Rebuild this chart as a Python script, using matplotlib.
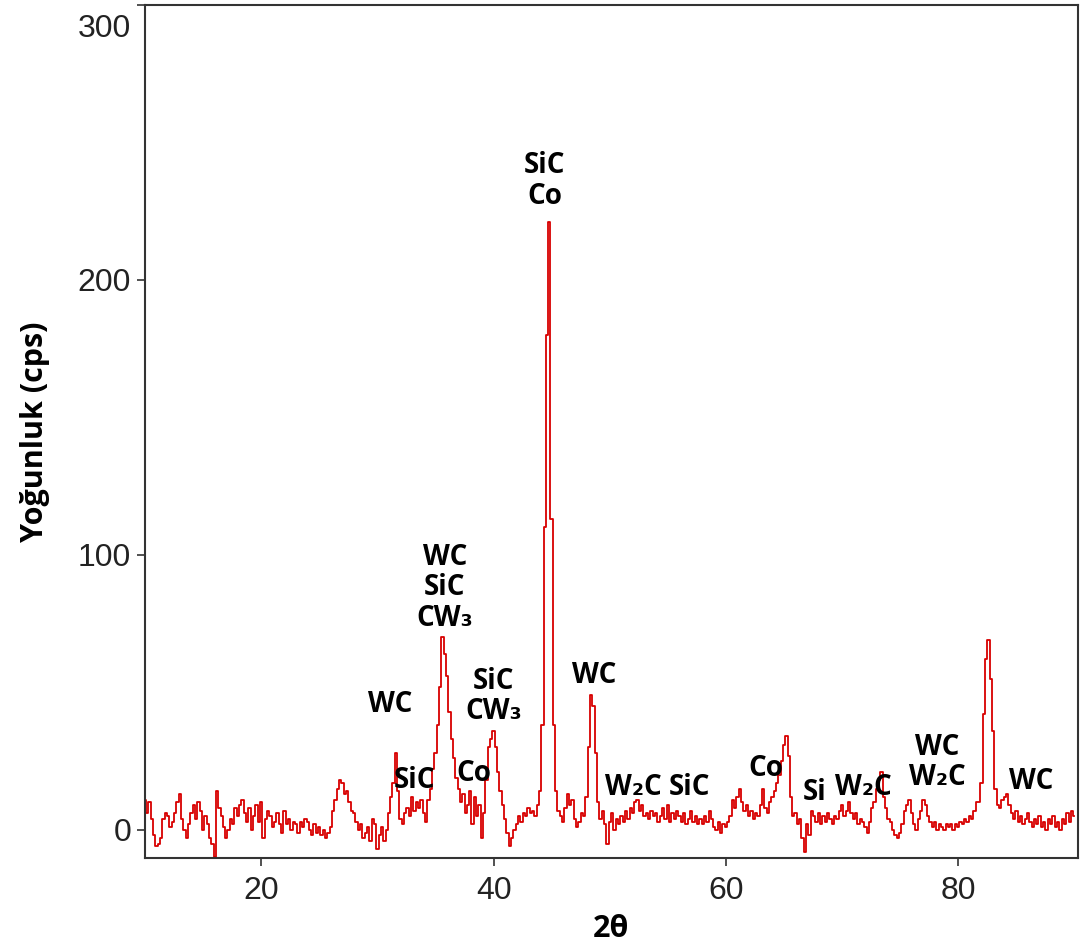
import numpy as np
import matplotlib
matplotlib.use("Agg")
import matplotlib.pyplot as plt
from matplotlib.transforms import ScaledTranslation

# 2theta grid, 0.2 deg step
two_theta = np.round(np.arange(10.0, 90.0001, 0.2), 1)

# intensity (cps), one row = 2 degrees
intensity = [
    11, 6, 10, 4, -2, -6, -5, -3, 4, 6,          # 10-12
    5, 1, 3, 6, 10, 13, 4, 0, -3, 2,             # 12-14
    6, 9, 4, 10, 7, 0, 5, 2, -3, -5,             # 14-16
    -10, 14, 8, 5, 1, -3, 0, 4, 2, 8,            # 16-18
    5, 9, 11, 6, 3, 8, 0, 5, 9, 3,               # 18-20
    10, -3, 4, 7, 5, 1, 3, 6, 2, -1,             # 20-22
    7, 2, 4, 0, 3, 2, -1, 3, 1, 4,               # 22-24
    3, 0, -2, 2, -1, 1, -2, 0, -3, -1,           # 24-26
    1, 7, 11, 15, 18, 17, 13, 14, 10, 7,         # 26-28
    6, 3, 0, 2, -3, -1, 1, -4, 4, 2,             # 28-30
    -7, -2, 1, -4, 0, 6, 12, 17, 28, 14,         # 30-32
    4, 2, 6, 8, 5, 12, 7, 10, 8, 11,             # 32-34
    6, 3, 11, 15, 22, 28, 38, 52, 70, 64,        # 34-36
    56, 43, 33, 26, 19, 15, 10, 13, 6, 9,        # 36-38
    14, 2, 12, 5, 9, -3, 6, 18, 30, 33,          # 38-40
    36, 30, 21, 14, 9, 4, -1, -6, -3, 0,         # 40-42
    2, 5, 3, 6, 5, 8, 6, 7, 5, 9,                # 42-44
    14, 38, 110, 180, 221, 113, 38, 14, 7, 5,    # 44-46
    3, 8, 13, 9, 11, 4, 1, 3, 6, 5,              # 46-48
    12, 30, 49, 45, 28, 10, 4, 7, 2, -5,         # 48-50
    3, 6, 0, 4, 2, 5, 3, 7, 4, 8,                # 50-52
    6, 10, 11, 7, 9, 5, 6, 4, 7, 5,              # 52-54
    6, 3, 5, 8, 4, 9, 3, 6, 4, 7,                # 54-56
    5, 3, 6, 2, 4, 7, 3, 5, 2, 4,                # 56-58
    2, 5, 3, 7, 4, 1, 0, 3, -1, 2,               # 58-60
    1, 3, 5, 11, 8, 12, 15, 10, 7, 9,            # 60-62
    5, 7, 4, 6, 5, 9, 15, 8, 6, 10,              # 62-64
    12, 14, 17, 20, 25, 31, 34, 27, 12, 5,       # 64-66
    6, 2, 4, -3, -8, 2, -2, 7, 5, 3,             # 66-68
    6, 2, 5, 3, 6, 4, 2, 5, 4, 7,                # 68-70
    9, 5, 7, 10, 6, 4, 6, 2, 4, 3,               # 70-72
    1, -1, 3, 8, 10, 15, 18, 21, 12, 8,          # 72-74
    4, 3, 0, -2, -3, -1, 2, 7, 9, 11,            # 74-76
    6, 2, 0, 4, 7, 11, 9, 5, 3, 1,               # 76-78
    3, 0, 2, 1, 0, 2, 1, 2, 0, 2,                # 78-80
    1, 3, 2, 4, 3, 5, 4, 7, 10, 10,              # 80-82
    17, 42, 62, 69, 55, 36, 15, 9, 8, 11,        # 82-84
    12, 13, 9, 6, 4, 7, 3, 5, 2, 4,              # 84-86
    6, 3, 1, 4, 2, 5, 1, 3, 0, 4,                # 86-88
    2, 5, 1, 3, 0, 4, 2, 6, 3, 7,                # 88-90
    5,
]

# phase labels: text, 2theta, intensity
peak_labels = [
    ("SiC\nCo", 44.4, 236),
    ("WC\nSiC\nCW\u2083", 35.8, 88),
    ("SiC\nCW\u2083", 40.0, 48.5),
    ("WC", 31.1, 45.5),
    ("SiC", 33.2, 18),
    ("Co", 38.3, 20.5),
    ("WC", 48.7, 56),
    ("W\u2082C", 52.0, 15.5),
    ("SiC", 56.9, 15.5),
    ("Co", 63.4, 22.5),
    ("Si", 67.6, 13.5),
    ("W\u2082C", 71.8, 15.5),
    ("WC\nW\u2082C", 78.2, 24.5),
    ("WC", 86.3, 17.5),
]

x_ticks = [20, 40, 60, 80]
y_ticks = [0, 100, 200, 300]

fig = plt.figure(figsize=(10.87, 9.43), dpi=100)
ax = fig.add_axes([0.1334, 0.0902, 0.8583, 0.9045])

ax.plot(two_theta, intensity, color="#d80000", lw=1.3, drawstyle="steps-mid")

label_font = ["Open Sans", "DejaVu Sans"]
for text, x, y in peak_labels:
    ax.text(x, y, text, ha="center", va="center", fontsize=20, fontweight="bold",
            family=label_font, linespacing=1.05, color="black")

ax.set_xlim(10, 90.3)
ax.set_ylim(-10.2, 300)
ax.set_xticks(x_ticks)
ax.set_yticks(y_ticks)
ax.tick_params(axis="both", direction="out", length=6, width=1.2, color="#333333",
               labelsize=23, labelcolor="#222222", pad=4)
ax.tick_params(axis="x", pad=7)
for lab in ax.get_xticklabels() + ax.get_yticklabels():
    lab.set_family(["Liberation Sans", "DejaVu Sans"])

# the 300 label sits a bit below the top edge in the original
top_lab = ax.get_yticklabels()[-1]
top_lab.set_transform(top_lab.get_transform() + ScaledTranslation(0, -0.21, fig.dpi_scale_trans))

for sp in ax.spines.values():
    sp.set_color("#333333")
    sp.set_linewidth(1.5)

ax.set_xlabel("2\u03b8", fontsize=22, fontweight="bold", family=label_font, labelpad=6)
ax.set_ylabel("Yo\u011funluk (cps)", fontsize=22, fontweight="bold", family=label_font, labelpad=20)

fig.savefig("out.png", dpi=100)
